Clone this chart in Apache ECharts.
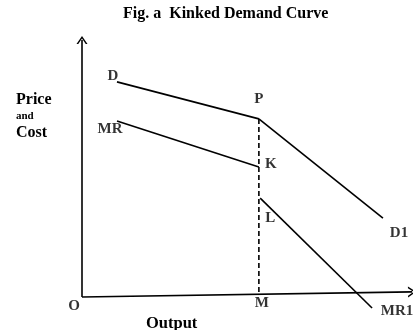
<!DOCTYPE html>
<html>
<head>
<meta charset="utf-8">
<script src="https://cdn.jsdelivr.net/npm/echarts@6/dist/echarts.min.js"></script>
<style>html,body{margin:0;padding:0;background:#fff}#c{width:413px;height:330px}</style>
</head>
<body>
<div id="c"></div>
<script>
// ---- data (output units on x, price units on y) ----
const curveD   = [[10.6, 83.7], [53.6, 69.3]];   // D  -> P
const curveD1  = [[53.6, 69.3], [91.2, 30.7]];   // P  -> D1
const curveMR  = [[10.6, 68.5], [53.6, 50.6]];   // MR -> K
const curveMR1 = [[54.0, 38.5], [87.9, -4.3]];   // L  -> MR1
const outputM  = 53.6;
const xAxisEnd = [100, 2];
const yAxisEnd = [0, 100];
const pointNames = ['D', 'P', 'MR', 'K', 'L', 'D1', 'MR1', 'M', 'O'];
const titleText = 'Fig. a  Kinked Demand Curve';
const xName = 'Output';
const yNames = ['Price', 'and', 'Cost'];

const labelPoints = [
  curveD[0], curveD[1], curveMR[0], curveMR[1], curveMR1[0],
  curveD1[1], curveMR1[1], [outputM, 1], [0, 0]
];
const labelOffsets = {
  D: [-4, -6], P: [0, -20], MR: [-7, 8], K: [12, -3], L: [10, 20],
  D1: [16, 15], MR1: [25, 3], M: [3, 9], O: [-8, 9]
};

const FONT = '"Liberation Serif", "Times New Roman", serif';
const lineStyle = { color: '#000', width: 1.6 };
function seg(data) {
  return { type: 'line', data: data, symbol: 'none', clip: false, silent: true,
           lineStyle: lineStyle, animation: false };
}
const chevron = 'path://M0,10 L5,0 L10,10 L8.4,10 L5,3.2 L1.6,10 Z';

const chart = echarts.init(document.getElementById('c'), null, { renderer: 'canvas' });
chart.setOption({
  animation: false,
  backgroundColor: '#fff',
  title: [
    { text: titleText, left: 123, top: 6, padding: 0,
      textStyle: { fontFamily: FONT, fontWeight: 'bold', fontSize: 16, color: '#000' } },
    { text: xName, left: 146, top: 315, padding: 0,
      textStyle: { fontFamily: FONT, fontWeight: 'bold', fontSize: 16.5, color: '#000' } },
    { text: yNames[0], left: 16, top: 92, padding: 0,
      textStyle: { fontFamily: FONT, fontWeight: 'bold', fontSize: 16, color: '#000' } },
    { text: yNames[1], left: 16, top: 111, padding: 0,
      textStyle: { fontFamily: FONT, fontWeight: 'bold', fontSize: 11, color: '#000' } },
    { text: yNames[2], left: 16, top: 125, padding: 0,
      textStyle: { fontFamily: FONT, fontWeight: 'bold', fontSize: 16, color: '#000' } }
  ],
  grid: { left: 82, right: 1, top: 40, bottom: 33 },
  xAxis: { type: 'value', min: 0, max: 100, show: false },
  yAxis: { type: 'value', min: 0, max: 100, show: false },
  series: [
    {
      type: 'line', data: [], silent: true, animation: false,
      markLine: {
        silent: true, animation: false,
        symbol: ['none', chevron], symbolSize: [11, 8],
        label: { show: false },
        lineStyle: { color: '#000', width: 1.6, type: 'solid' },
        data: [
          [{ coord: [0, 0] }, { coord: yAxisEnd }],
          [{ coord: [0, 0] }, { coord: xAxisEnd }]
        ]
      }
    },
    seg(curveD), seg(curveD1), seg(curveMR), seg(curveMR1),
    {
      type: 'line', data: [[outputM, curveD[1][1]], [outputM, 1]], symbol: 'none',
      clip: false, silent: true, animation: false,
      lineStyle: { color: '#000', width: 1.6, type: [5, 3] }
    },
    {
      type: 'scatter', silent: true, animation: false, clip: false,
      symbolSize: 1, itemStyle: { color: 'rgba(0,0,0,0)' },
      data: pointNames.map((n, i) => ({
        value: labelPoints[i],
        label: {
          show: true, formatter: n, position: 'inside',
          align: 'center', verticalAlign: 'middle',
          offset: labelOffsets[n],
          fontFamily: FONT, fontWeight: 'bold', fontSize: 15, color: '#000'
        }
      }))
    }
  ]
});
</script>
</body>
</html>
